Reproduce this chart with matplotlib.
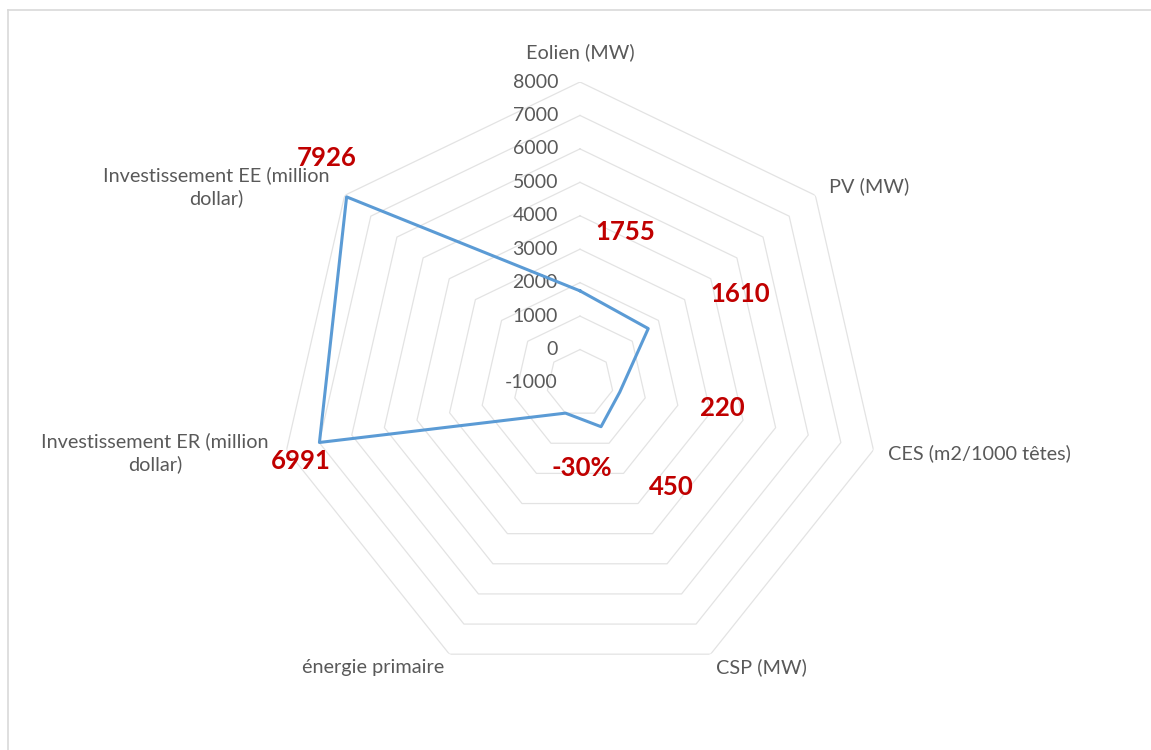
import numpy as np
import matplotlib.pyplot as plt
from matplotlib.lines import Line2D

categories = ["Eolien (MW)", "PV (MW)", "CES (m2/1000 têtes)", "CSP (MW)",
              "énergie primaire", "Investissement ER (million\ndollar)",
              "Investissement EE (million\ndollar)"]
values = [1755, 1610, 220, 450, -0.3, 6991, 7926]
value_labels = ["1755", "1610", "220", "450", "-30%", "6991", "7926"]
ticks = [-1000, 0, 1000, 2000, 3000, 4000, 5000, 6000, 7000, 8000]

# offsets (pixels) of the red data labels from their points
label_offsets = [(45, 59), (92, 35), (103, -16), (70, -60), (16, -55), (-19, -19), (-20, 39)]
# offsets of category names from the outer ring vertex
cat_offsets = [((0, 30), "center"), ((14, 9), "left"), ((15, -3), "left"),
               ((51, -13), "center"), ((-5, -13), "right"), ((-18, -3), "right"),
               ((-15, 9), "right")]

plt.rcParams["font.family"] = ["Lato", "DejaVu Sans"]
grey = "#595959"

fig = plt.figure(figsize=(11.51, 7.5), dpi=100)
ax = fig.add_axes([279 / 1151, 66 / 750, 602 / 1151, 602 / 750], projection="polar")
ax.set_theta_zero_location("N")
ax.set_theta_direction(-1)
ax.set_ylim(ticks[0], ticks[-1])
ax.grid(False)
ax.spines["polar"].set_visible(False)
ax.set_xticks([])
ax.set_yticks([])

n = len(categories)
angles = np.arange(n) * 2 * np.pi / n
ring_angles = np.append(angles, angles[0])

# heptagon grid
for t in ticks[1:]:
    ax.plot(ring_angles, [t] * (n + 1), color="#E3E3E3", lw=0.9, zorder=1)

# tick labels along the top axis
for t in ticks:
    ax.annotate(str(t), xy=(0, t), xytext=(-22, 0), textcoords="offset pixels",
                ha="right", va="center", fontsize=14, color=grey)

# data line
ax.plot(ring_angles, values + values[:1], color="#5B9BD5", lw=2.2, zorder=3)

for a, v, lab, off in zip(angles, values, value_labels, label_offsets):
    ax.annotate(lab, xy=(a, v), xytext=off, textcoords="offset pixels",
                ha="center", va="center", fontsize=18.5, fontweight="bold",
                color="#C00000", zorder=4)

for a, cat, (off, ha) in zip(angles, categories, cat_offsets):
    ax.annotate(cat, xy=(a, ticks[-1]), xytext=off, textcoords="offset pixels",
                ha=ha, va="center", fontsize=14.3, color=grey, multialignment="center",
                linespacing=1.35, annotation_clip=False)

# light frame of the chart area
fig.add_artist(Line2D([8 / 1151, 1], [1 - 9.5 / 750, 1 - 9.5 / 750],
                      transform=fig.transFigure, color="#D9D9D9", lw=1.2))
fig.add_artist(Line2D([8 / 1151, 8 / 1151], [0, 1 - 9.5 / 750],
                      transform=fig.transFigure, color="#D9D9D9", lw=1.2))

fig.savefig("out.png", dpi=100)
